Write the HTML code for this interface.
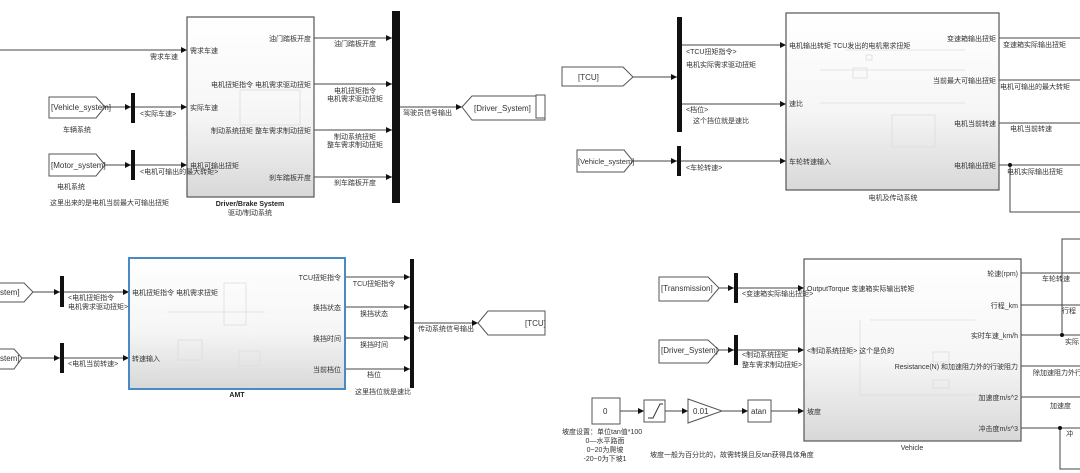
<!DOCTYPE html>
<html><head><meta charset="utf-8">
<style>
html,body{margin:0;padding:0;background:#fff;}
svg{display:block;font-family:"Liberation Sans","Noto Sans CJK SC",sans-serif;}
text{fill:#333;font-size:7px;}
.b{font-weight:bold;fill:#222;}
</style></head><body>
<svg width="1080" height="473" viewBox="0 0 1080 473" xmlns="http://www.w3.org/2000/svg">
<defs>
<linearGradient id="g" x1="0" y1="0" x2="0" y2="1"><stop offset="0" stop-color="#fff"/><stop offset="0.55" stop-color="#f6f6f6"/><stop offset="1" stop-color="#d8d8d8"/></linearGradient>
<marker id="a" markerWidth="6" markerHeight="6" refX="6" refY="3" orient="auto" markerUnits="userSpaceOnUse"><path d="M0,0L6,3L0,6z" fill="#111"/></marker>
</defs>
<g stroke="#444" stroke-width="1" fill="none">
<line x1="0" y1="50" x2="187" y2="50" marker-end="url(#a)"/>
<line x1="105" y1="107" x2="131" y2="107" marker-end="url(#a)"/>
<line x1="135" y1="107" x2="187" y2="107" marker-end="url(#a)"/>
<line x1="105" y1="165" x2="131" y2="165" marker-end="url(#a)"/>
<line x1="135" y1="165" x2="187" y2="165" marker-end="url(#a)"/>
<line x1="314" y1="38" x2="392" y2="38" marker-end="url(#a)"/>
<line x1="314" y1="84" x2="392" y2="84" marker-end="url(#a)"/>
<line x1="314" y1="130" x2="392" y2="130" marker-end="url(#a)"/>
<line x1="314" y1="177" x2="392" y2="177" marker-end="url(#a)"/>
<line x1="400" y1="107" x2="462" y2="107" marker-end="url(#a)"/>
<line x1="633" y1="77" x2="677" y2="77" marker-end="url(#a)"/>
<line x1="682" y1="45" x2="786" y2="45" marker-end="url(#a)"/>
<line x1="682" y1="104" x2="786" y2="104" marker-end="url(#a)"/>
<line x1="633" y1="161" x2="677" y2="161" marker-end="url(#a)"/>
<line x1="681" y1="161" x2="786" y2="161" marker-end="url(#a)"/>
<line x1="999" y1="38" x2="1080" y2="38"/>
<line x1="999" y1="80" x2="1080" y2="80"/>
<line x1="999" y1="123" x2="1080" y2="123"/>
<line x1="999" y1="165" x2="1080" y2="165"/>
<polyline points="1010,165 1010,212 1080,212"/>
<line x1="33" y1="292" x2="60" y2="292" marker-end="url(#a)"/>
<line x1="64" y1="292" x2="129" y2="292" marker-end="url(#a)"/>
<line x1="22" y1="358" x2="60" y2="358" marker-end="url(#a)"/>
<line x1="64" y1="358" x2="129" y2="358" marker-end="url(#a)"/>
<line x1="345" y1="277" x2="410" y2="277" marker-end="url(#a)"/>
<line x1="345" y1="307" x2="410" y2="307" marker-end="url(#a)"/>
<line x1="345" y1="338" x2="410" y2="338" marker-end="url(#a)"/>
<line x1="345" y1="369" x2="410" y2="369" marker-end="url(#a)"/>
<line x1="414" y1="323" x2="478" y2="323" marker-end="url(#a)"/>
<line x1="719" y1="288" x2="734" y2="288" marker-end="url(#a)"/>
<line x1="738" y1="288" x2="804" y2="288" marker-end="url(#a)"/>
<line x1="719" y1="350" x2="734" y2="350" marker-end="url(#a)"/>
<line x1="738" y1="350" x2="804" y2="350" marker-end="url(#a)"/>
<line x1="620" y1="411" x2="644" y2="411" marker-end="url(#a)"/>
<line x1="665" y1="411" x2="688" y2="411" marker-end="url(#a)"/>
<line x1="722" y1="411" x2="748" y2="411" marker-end="url(#a)"/>
<line x1="771" y1="411" x2="804" y2="411" marker-end="url(#a)"/>
<line x1="1021" y1="273" x2="1080" y2="273"/>
<line x1="1021" y1="305" x2="1080" y2="305"/>
<line x1="1021" y1="335" x2="1080" y2="335"/>
<line x1="1021" y1="366" x2="1080" y2="366"/>
<line x1="1021" y1="397" x2="1080" y2="397"/>
<line x1="1021" y1="428" x2="1080" y2="428"/>
<polyline points="1062,335 1062,239 1080,239"/>
<polyline points="1060,428 1060,469 1080,469"/>
</g>
<circle cx="1010" cy="165" r="2" fill="#111"/>
<circle cx="1062" cy="335" r="2" fill="#111"/>
<circle cx="1060" cy="428" r="2" fill="#111"/>

<rect x="187" y="17" width="127" height="180" fill="url(#g)" stroke="#555" stroke-width="1.2"/>
<rect x="786" y="13" width="213" height="177" fill="url(#g)" stroke="#555" stroke-width="1.2"/>
<rect x="129" y="258" width="216" height="131" fill="url(#g)" stroke="#4a8ac4" stroke-width="2"/>
<rect x="804" y="259" width="217" height="182" fill="url(#g)" stroke="#555" stroke-width="1.2"/>
<g stroke="#ddd" fill="none" stroke-width="0.8">
<rect x="240" y="90" width="60" height="35"/>
<rect x="892" y="115" width="43" height="32"/><rect x="853" y="68" width="14" height="10"/><rect x="866" y="55" width="6" height="5"/>
<line x1="820" y1="70" x2="965" y2="70"/><line x1="820" y1="103" x2="965" y2="103"/><line x1="845" y1="50" x2="965" y2="50"/>
<rect x="224" y="283" width="22" height="42"/><rect x="178" y="340" width="24" height="20"/><rect x="239" y="351" width="21" height="15"/>
<line x1="167" y1="312" x2="265" y2="312"/><line x1="167" y1="370" x2="300" y2="370"/>
<rect x="933" y="352" width="16" height="10"/><rect x="933" y="380" width="16" height="8"/>
<line x1="870" y1="320" x2="975" y2="320"/><line x1="860" y1="395" x2="975" y2="395"/><line x1="860" y1="320" x2="860" y2="395"/>
</g>

<g fill="#111">
<rect x="131" y="93" width="4" height="30"/><rect x="131" y="150" width="4" height="30"/>
<rect x="392" y="11" width="8" height="192"/>
<rect x="677" y="17" width="5" height="115"/><rect x="677" y="146" width="4" height="30"/>
<rect x="60" y="276" width="4" height="31"/><rect x="60" y="343" width="4" height="30"/>
<rect x="410" y="259" width="4" height="129"/>
<rect x="734" y="273" width="4" height="30"/><rect x="734" y="335" width="4" height="30"/>
</g>

<g fill="#fff" stroke="#555" stroke-width="1">
<polygon points="49,97 96,97 105,107 96,118 49,118"/>
<polygon points="49,154 96,154 105,165 96,176 49,176"/>
<polygon points="462,107 472,96 545,96 545,120 472,120"/>
<polygon points="562,67 623,67 633,77 623,86 562,86"/>
<polygon points="577,150 624,150 633,161 624,172 577,172"/>
<rect x="536" y="95" width="9" height="23"/>
<polygon points="-5,283 24,283 33,292 24,302 -5,302"/>
<polygon points="-5,349 14,349 22,358 14,369 -5,369"/>
<polygon points="478,323 488,311 545,311 545,335 488,335"/>
<polygon points="659,277 708,277 719,288 708,301 659,301"/>
<polygon points="659,340 708,340 719,350 708,363 659,363"/>
<rect x="592" y="398" width="28" height="26"/>
<rect x="644" y="400" width="21" height="22"/>
<polygon points="688,399 722,411 688,423"/>
<rect x="748" y="400" width="23" height="22"/>
</g>
<polyline points="648,418 653,418 660,404 663,404" fill="none" stroke="#333"/>
<g>
<text x="51" y="110" style="font-size:8px">[Vehicle_system]</text>
<text x="51" y="168" style="font-size:8px">[Motor_system]</text>
<text x="474" y="111" style="font-size:8px">[Driver_System]</text>
<text x="578" y="80" style="font-size:8px">[TCU]</text>
<text x="578" y="164" style="font-size:7.5px">[Vehicle_system]</text>
<text x="0" y="295" style="font-size:8px">stem]</text>
<text x="0" y="361" style="font-size:8px">stem]</text>
<text x="525" y="326" style="font-size:8px">[TCU]</text>
<text x="661" y="291" style="font-size:8px">[Transmission]</text>
<text x="661" y="353" style="font-size:8px">[Driver_System]</text>
<text x="603" y="414" style="font-size:8px">0</text>
<text x="693" y="414" style="font-size:8px">0.01</text>
<text x="751" y="414" style="font-size:8px">atan</text>
</g>

<text x="150" y="59">需求车速</text>
<text x="190" y="53">需求车速</text>
<text x="190" y="110">实际车速</text>
<text x="190" y="168">电机可输出扭矩</text>
<text x="140" y="116">&lt;实际车速&gt;</text>
<text x="140" y="174">&lt;电机可输出的最大转矩&gt;</text>
<text x="63" y="132">车辆系统</text>
<text x="57" y="189">电机系统</text>
<text x="50" y="205">这里出来的是电机当前最大可输出扭矩</text>
<text x="311" y="41" text-anchor="end">油门踏板开度</text>
<text x="311" y="87" text-anchor="end">电机扭矩指令 电机需求驱动扭矩</text>
<text x="311" y="133" text-anchor="end">制动系统扭矩 整车需求制动扭矩</text>
<text x="311" y="180" text-anchor="end">刹车踏板开度</text>
<text x="355" y="46" text-anchor="middle">油门踏板开度</text>
<text x="355" y="93" text-anchor="middle">电机扭矩指令</text>
<text x="355" y="101" text-anchor="middle">电机需求驱动扭矩</text>
<text x="355" y="139" text-anchor="middle">制动系统扭矩</text>
<text x="355" y="147" text-anchor="middle">整车需求制动扭矩</text>
<text x="355" y="185" text-anchor="middle">刹车踏板开度</text>
<text x="403" y="115">驾驶员信号输出</text>
<text x="250" y="206" text-anchor="middle" class="b">Driver/Brake System</text>
<text x="250" y="215" text-anchor="middle">驱动/制动系统</text>

<text x="686" y="54">&lt;TCU扭矩指令&gt;</text>
<text x="686" y="67">电机实际需求驱动扭矩</text>
<text x="686" y="112">&lt;档位&gt;</text>
<text x="693" y="123">这个挡位就是速比</text>
<text x="686" y="170">&lt;车轮转速&gt;</text>
<text x="789" y="48">电机输出转矩 TCU发出的电机需求扭矩</text>
<text x="789" y="106">速比</text>
<text x="789" y="164">车轮转速输入</text>
<text x="996" y="41" text-anchor="end">变速箱输出扭矩</text>
<text x="996" y="83" text-anchor="end">当前最大可输出扭矩</text>
<text x="996" y="126" text-anchor="end">电机当前转速</text>
<text x="996" y="168" text-anchor="end">电机输出扭矩</text>
<text x="1003" y="47">变速箱实际输出扭矩</text>
<text x="1000" y="89">电机可输出的最大转矩</text>
<text x="1010" y="131">电机当前转速</text>
<text x="1007" y="174">电机实际输出扭矩</text>
<text x="893" y="200" text-anchor="middle">电机及传动系统</text>

<text x="68" y="300">&lt;电机扭矩指令</text>
<text x="68" y="309">电机需求驱动扭矩&gt;</text>
<text x="68" y="366">&lt;电机当前转速&gt;</text>
<text x="132" y="295">电机扭矩指令 电机需求扭矩</text>
<text x="132" y="361">转速输入</text>
<text x="341" y="280" text-anchor="end">TCU扭矩指令</text>
<text x="341" y="310" text-anchor="end">换挡状态</text>
<text x="341" y="341" text-anchor="end">换挡时间</text>
<text x="341" y="372" text-anchor="end">当前档位</text>
<text x="374" y="286" text-anchor="middle">TCU扭矩指令</text>
<text x="374" y="316" text-anchor="middle">换挡状态</text>
<text x="374" y="347" text-anchor="middle">换挡时间</text>
<text x="374" y="377" text-anchor="middle">档位</text>
<text x="418" y="331">传动系统信号输出</text>
<text x="237" y="397" text-anchor="middle" class="b">AMT</text>
<text x="355" y="394">这里挡位就是速比</text>

<text x="742" y="296">&lt;变速箱实际输出扭矩&gt;</text>
<text x="742" y="357">&lt;制动系统扭矩</text>
<text x="742" y="367">整车需求制动扭矩&gt;</text>
<text x="807" y="291">OutputTorque 变速箱实际输出转矩</text>
<text x="807" y="353">&lt;制动系统扭矩&gt; 这个是负的</text>
<text x="807" y="414">坡度</text>
<text x="1018" y="369" text-anchor="end">Resistance(N) 和加速阻力外的行驶阻力</text>
<text x="1018" y="276" text-anchor="end">轮速(rpm)</text>
<text x="1018" y="308" text-anchor="end">行程_km</text>
<text x="1018" y="338" text-anchor="end">实时车速_km/h</text>
<text x="1018" y="400" text-anchor="end">加速度m/s^2</text>
<text x="1018" y="431" text-anchor="end">冲击度m/s^3</text>
<text x="1042" y="281">车轮转速</text>
<text x="1062" y="313">行程</text>
<text x="1065" y="344">实际</text>
<text x="1033" y="375">除加速阻力外行驶</text>
<text x="1050" y="408">加速度</text>
<text x="1066" y="436">冲</text>
<text x="912" y="450" text-anchor="middle">Vehicle</text>
<text x="562" y="434">坡度设置：单位tan值*100</text>
<text x="605" y="443" text-anchor="middle">0—水平路面</text>
<text x="605" y="452" text-anchor="middle">0~20为爬坡</text>
<text x="605" y="461" text-anchor="middle">-20~0为下坡1</text>
<text x="650" y="457">坡度一般为百分比的，故需转换且反tan获得具体角度</text>
</svg>
</body></html>
